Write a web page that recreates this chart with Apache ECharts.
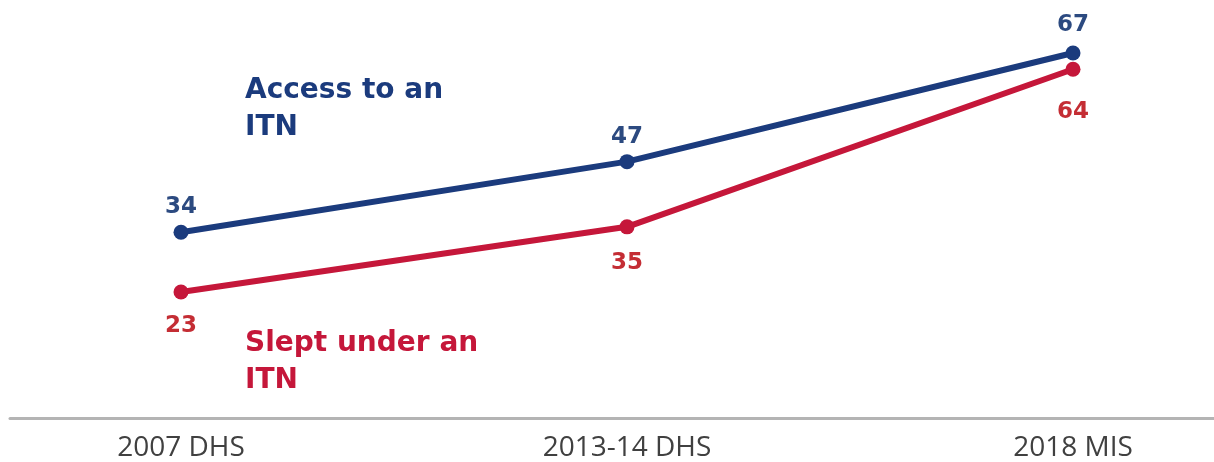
<!DOCTYPE html>
<html>
<head>
<meta charset="utf-8">
<script src="https://cdn.jsdelivr.net/npm/echarts@6/dist/echarts.min.js"></script>
<style>
  html, body { margin: 0; padding: 0; background: #ffffff; }
  #chart { width: 1214px; height: 462px; }
</style>
</head>
<body>
<div id="chart"></div>
<script>
// Survey rounds and ITN indicators (percent)
const surveys = ['2007 DHS', '2013-14 DHS', '2018 MIS'];
const accessITN = [34, 47, 67];
const sleptITN = [23, 35, 64];

// label gap above / below each point
const accessLabelGap = [6, 6, 9];
const sleptLabelGap = [15, 17, 24];

const BLUE = '#1b3b7d';
const RED = '#c5173a';
const BLUE_TXT = '#2c4a80';
const RED_TXT = '#c42d34';
const BOLD_FONT = '"DejaVu Sans", sans-serif';
const AXIS_FONT = '"Open Sans", sans-serif';

const chart = echarts.init(document.getElementById('chart'), null, { renderer: 'canvas' });

function points(values, gaps) {
  return values.map((v, i) => ({ value: v, label: { distance: gaps[i] } }));
}

chart.setOption({
  animation: false,
  backgroundColor: '#ffffff',
  grid: [
    { left: 181, right: 141, top: 9.5, bottom: 43.5 },
    // full-width baseline
    { left: 10, right: 0, top: 9.5, bottom: 43.5 }
  ],
  xAxis: [
    {
      type: 'category',
      gridIndex: 0,
      data: surveys,
      boundaryGap: false,
      axisLine: { show: false },
      axisTick: { show: false },
      axisLabel: { color: '#404040', fontSize: 28, fontFamily: AXIS_FONT, margin: 17 }
    },
    {
      type: 'value',
      gridIndex: 1,
      min: 0, max: 1,
      axisLine: { show: true, lineStyle: { color: '#b4b4b4', width: 3 } },
      axisTick: { show: false },
      axisLabel: { show: false },
      splitLine: { show: false }
    }
  ],
  yAxis: [
    { type: 'value', gridIndex: 0, min: 0, max: 75, show: false },
    { type: 'value', gridIndex: 1, min: 0, max: 75, show: false }
  ],
  series: [
    {
      name: 'Access to an ITN',
      type: 'line',
      data: points(accessITN, accessLabelGap),
      symbol: 'circle',
      symbolSize: 15,
      lineStyle: { color: BLUE, width: 6 },
      itemStyle: { color: BLUE },
      label: {
        show: true, position: 'top',
        color: BLUE_TXT, fontSize: 23, fontWeight: 'bold', fontFamily: BOLD_FONT
      },
      z: 3
    },
    {
      name: 'Slept under an ITN',
      type: 'line',
      data: points(sleptITN, sleptLabelGap),
      symbol: 'circle',
      symbolSize: 15,
      lineStyle: { color: RED, width: 6 },
      itemStyle: { color: RED },
      label: {
        show: true, position: 'bottom',
        color: RED_TXT, fontSize: 23, fontWeight: 'bold', fontFamily: BOLD_FONT
      },
      z: 2
    }
  ],
  graphic: [
    {
      type: 'text', left: 245, top: 72,
      style: {
        text: 'Access to an\nITN', fill: BLUE, font: 'bold 28px ' + BOLD_FONT, lineHeight: 37
      }
    },
    {
      type: 'text', left: 245, top: 325,
      style: {
        text: 'Slept under an\nITN', fill: RED, font: 'bold 28px ' + BOLD_FONT, lineHeight: 37
      }
    }
  ]
});
</script>
</body>
</html>
